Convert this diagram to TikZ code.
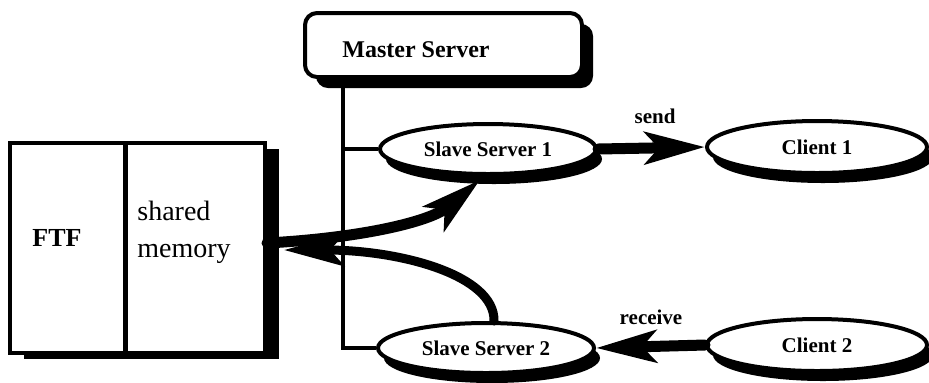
\documentclass[tikz,border=0pt]{standalone}
\usepackage{fontspec}
\setmainfont{Liberation Serif}
\usetikzlibrary{shapes.geometric,shadows,arrows.meta}
\begin{document}
\begin{tikzpicture}[x=0.5pt,y=-0.5pt,
  box/.style={draw=black, line width=2pt, fill=white, inner sep=0pt},
  ell/.style={ellipse, draw=black, line width=2pt, fill=white, inner sep=0pt,
    minimum width=108pt, minimum height=25pt,
    font=\fontsize{10.5}{12}\selectfont\bfseries,
    drop shadow={shadow xshift=3pt, shadow yshift=-5pt, fill=black, opacity=1}},
  link/.style={line width=2.2pt},
  flow/.style={line width=5.5pt, line cap=round, -{Stealth[length=30pt,width=16pt,inset=7pt]}},
  lbl/.style={font=\fontsize{10.5}{12}\selectfont\bfseries, inner sep=0pt}]
\useasboundingbox (0,0) rectangle (929,382);

% Master server
\node[box, rounded corners=6pt, minimum width=138.5pt, minimum height=32pt,
  drop shadow={shadow xshift=5.5pt, shadow yshift=-5.5pt, fill=black, opacity=1}] (master) at (443.5,45) {};
\node[lbl, font=\fontsize{12}{14}\selectfont\bfseries] (mastertext) at (416,50) {Master Server};

% FTF / shared memory block
\node[box, minimum width=127.5pt, minimum height=105pt,
  drop shadow={shadow xshift=7pt, shadow yshift=-3pt, fill=black, opacity=1}] (frame) at (137.5,248) {};
\node[inner sep=0pt, minimum width=57.5pt, minimum height=105pt] (ftf) at (67.5,248) {};
\draw[link] (ftf.north east) -- (ftf.south east);
\node[inner sep=0pt, font=\fontsize{13}{15}\selectfont\bfseries] (ftflabel) at (57,238) {FTF};
\node[inner sep=0pt, font=\fontsize{14}{18.5}\selectfont, align=left, anchor=west] (memlabel) at (137,232) {shared\\memory};

% Servers and clients
\node[ell] (s1) at (488,149) {Slave Server 1};
\node[ell] (s2) at (486,348) {Slave Server 2};
\node[ell, minimum width=110pt, minimum height=26pt] (c1) at (817,147) {Client 1};
\node[ell, minimum width=110pt, minimum height=26pt] (c2) at (817,345) {Client 2};

% Trunk lines
\coordinate (ttop) at (343,77);
\draw[link] (ttop) |- (s2.west);
\draw[link] (ttop |- s1.west) -- (s1.west);

% Send / receive
\draw[flow] (s1.east) -- (c1.west);
\draw[flow] (c2.west) -- (s2.east);
\node[lbl] (send) at (655,116) {send};
\node[lbl] (recv) at (651,317) {receive};

% Shared memory arrows
\draw[flow] ([yshift=2.5pt]frame.east) .. controls (360,238) and (430,222) .. ([xshift=-4pt,yshift=-2pt]s1.south);
\draw[flow, line width=4.5pt] ([xshift=4pt]s2.north) .. controls (495,275) and (400,250) .. ([xshift=8.5pt,yshift=-1pt]frame.east);
\end{tikzpicture}
\end{document}
